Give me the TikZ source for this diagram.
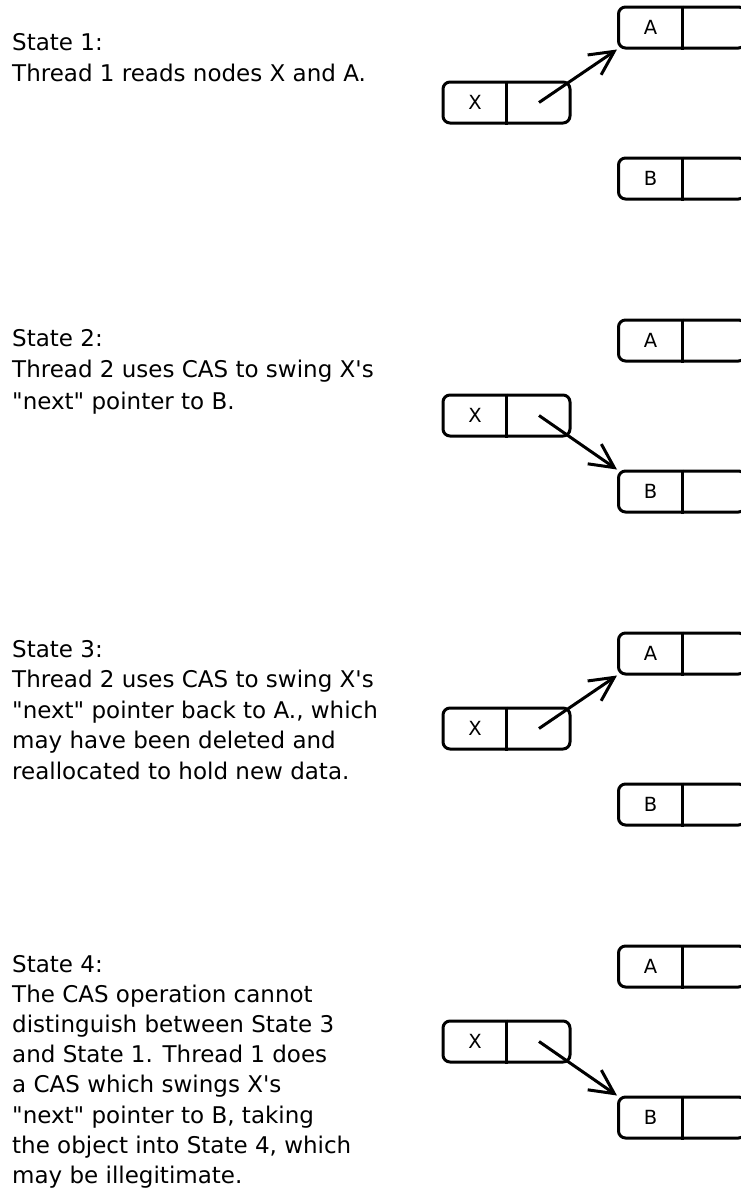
\documentclass[tikz,border=0pt]{standalone}
\usepackage{fontspec}
\setmainfont{DejaVu Sans}[Ligatures=TeXOff]
\usetikzlibrary{arrows.meta,calc}
\begin{document}
\begin{tikzpicture}[x=1pt,y=-1pt,
  cell/.style={draw, line width=3pt, rounded corners=7pt, minimum width=127pt, minimum height=41pt, inner sep=0pt},
  lab/.style={font=\fontsize{19.5}{22}\selectfont, inner sep=0pt},
  desc/.style={anchor=base west, align=left, inner sep=0pt},
  ptr/.style={line width=3pt, -{Straight Barb[length=24pt,width=24pt,line width=3pt]}}]
\useasboundingbox (0,0) rectangle (741,1194);
\clip (0,0) rectangle (741,1194);
\foreach \k/\t in {0/A, 1/B, 2/A, 3/B}{
  \pgfmathsetmacro{\d}{313*\k}
  \node[cell] (X\k) at (506.5,102.5+\d) {};
  \node[cell] (A\k) at (682,27.5+\d) {};
  \node[cell] (B\k) at (682,178.5+\d) {};
  \foreach \n in {X\k,A\k,B\k}{\draw[line width=3pt] (\n.north) -- (\n.south);}
  \node[lab] (XL\k) at ($(X\k.center)+(-31.5,0)$) {X};
  \node[lab] (AL\k) at ($(A\k.center)+(-31.5,0)$) {A};
  \node[lab] (BL\k) at ($(B\k.center)+(-31.5,0)$) {B};
  \coordinate (S\k) at ($(X\k.center)+(32.5,0)$);
}
\draw[ptr] (S0) -- (A0.south west);
\draw[ptr] (S1) -- (B1.north west);
\draw[ptr] (S2) -- (A2.south west);
\draw[ptr] (S3) -- (B3.north west);
\node[desc, font=\fontsize{23}{31}\selectfont] (T1) at (12,81) {State 1:\\Thread 1 reads nodes X and A.};
\node[desc, font=\fontsize{23}{31.5}\selectfont] (T2) at (12,409) {State 2:\\Thread 2 uses CAS to swing X's\\"next" pointer to B.};
\node[desc, font=\fontsize{23}{30.5}\selectfont] (T3) at (12,779) {State 3:\\Thread 2 uses CAS to swing X's\\"next" pointer back to A., which\\may have been deleted and\\reallocated to hold new data.};
\node[desc, font=\fontsize{23}{30.2}\selectfont] (T4) at (12,1183.4) {State 4:\\The CAS operation cannot\\distinguish between State 3\\and State 1. Thread 1 does\\a CAS which swings X's\\"next" pointer to B, taking\\the object into State 4, which\\may be illegitimate.};
\end{tikzpicture}
\end{document}
